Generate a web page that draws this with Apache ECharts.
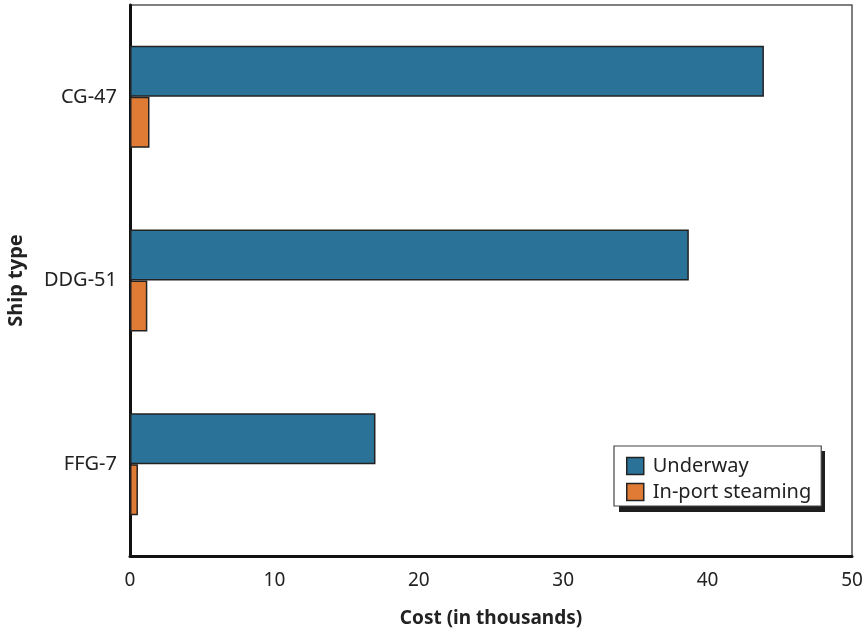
<!DOCTYPE html>
<html>
<head>
<meta charset="utf-8">
<script src="https://cdn.jsdelivr.net/npm/echarts@6/dist/echarts.min.js"></script>
<style>html,body{margin:0;padding:0;background:#fff}#c{width:865px;height:632px}</style>
</head>
<body>
<div id="c"></div>
<script>
const categories = ['FFG-7', 'DDG-51', 'CG-47'];
const underway = [17.0, 38.7, 43.9];
const inPort = [0.55, 1.2, 1.35];
const xTicks = [0, 10, 20, 30, 40, 50];
const seriesNames = ['Underway', 'In-port steaming'];

const font = 'Noto Sans';
const chart = echarts.init(document.getElementById('c'), null, {renderer: 'canvas'});
chart.setOption({
  animation: false,
  textStyle: {fontFamily: font},
  grid: {left: 130, right: 13, top: 5, bottom: 76, show: true, borderColor: '#555', borderWidth: 1.5,
    backgroundColor: 'transparent', outerBoundsMode: 'none', containLabel: false},
  graphic: [{
    type: 'rect', left: 619, top: 451, z: 0, zlevel: 0,
    shape: {width: 206, height: 61},
    style: {fill: '#1e1e1e'}, silent: true
  }],
  legend: {
    data: seriesNames,
    orient: 'vertical',
    left: 614, top: 446,
    padding: [10, 10, 4, 12],
    itemGap: 6,
    itemWidth: 17, itemHeight: 17,
    icon: 'rect',
    z: 5,
    backgroundColor: '#fff',
    borderColor: '#444', borderWidth: 1.2,
    textStyle: {fontFamily: font, fontSize: 20, color: '#222', padding: [0, 0, 0, 4]},
    itemStyle: {borderColor: '#222', borderWidth: 1.5}
  },
  xAxis: {
    type: 'value', min: 0, max: 50, interval: 10,
    name: 'Cost (in thousands)', nameLocation: 'middle', nameGap: 53,
    nameTextStyle: {fontFamily: font, fontSize: 19, fontWeight: 'bold', color: '#222'},
    axisLine: {show: true, lineStyle: {color: '#111', width: 3}},
    axisTick: {show: false},
    splitLine: {show: false},
    axisLabel: {fontFamily: font, fontSize: 19, color: '#222', margin: 15,
      formatter: v => xTicks.includes(v) ? String(v) : ''}
  },
  yAxis: {
    type: 'category', data: categories,
    name: 'Ship type', nameLocation: 'middle', nameGap: 104, nameRotate: 90,
    nameTextStyle: {fontFamily: font, fontSize: 20, fontWeight: 'bold', color: '#222'},
    axisLine: {show: true, lineStyle: {color: '#111', width: 3}},
    axisTick: {show: false},
    axisLabel: {fontFamily: font, fontSize: 20, color: '#222', margin: 13}
  },
  series: [
    {name: seriesNames[0], type: 'bar', data: underway, barWidth: 51, barGap: '0%',
      itemStyle: {color: '#2b7298', borderColor: '#222', borderWidth: 1.5}},
    {name: seriesNames[1], type: 'bar', data: inPort, barWidth: 51, barGap: '0%',
      itemStyle: {color: '#e07b36', borderColor: '#222', borderWidth: 1.5}}
  ]
});
</script>
</body>
</html>
